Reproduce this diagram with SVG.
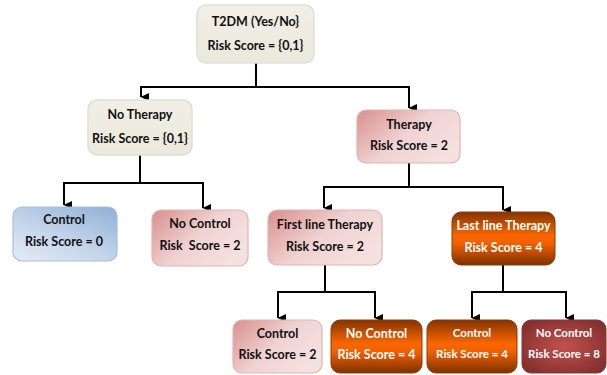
<svg xmlns="http://www.w3.org/2000/svg" width="607" height="375" viewBox="0 0 607 375">
<style>
.t{font-family:Lato,"Liberation Sans",sans-serif;font-weight:bold;font-size:12.5px;text-anchor:middle;fill:#111}
.w{fill:#fff}
.c{fill:none;stroke:#000;stroke-width:2}
</style>
<defs>
<marker id="ah" markerUnits="userSpaceOnUse" markerWidth="8" markerHeight="9" refX="4" refY="8" orient="auto-start-reverse" viewBox="0 0 8 9">
<path d="M0,0 L8,0 L4,8.5 Z" fill="#000" transform="rotate(0)"/>
</marker>
<linearGradient id="beige" x1="0" y1="0" x2="0" y2="1"><stop offset="0" stop-color="#f1efe6"/><stop offset="1" stop-color="#ebe8dc"/></linearGradient>
<linearGradient id="pink" x1="0" y1="0" x2="1" y2="0.6"><stop offset="0" stop-color="#d88f8d"/><stop offset="0.55" stop-color="#efd2d1"/><stop offset="1" stop-color="#f5e1e0"/></linearGradient>
<linearGradient id="blue" x1="1" y1="0" x2="0.2" y2="1"><stop offset="0" stop-color="#8fb0d6"/><stop offset="0.6" stop-color="#c3d4ea"/><stop offset="1" stop-color="#dfe8f3"/></linearGradient>
<linearGradient id="orange" x1="0" y1="0" x2="0" y2="1"><stop offset="0" stop-color="#843400"/><stop offset="0.45" stop-color="#fb6700"/><stop offset="0.6" stop-color="#f06000"/><stop offset="1" stop-color="#7d3100"/></linearGradient>
<radialGradient id="dred" cx="0.5" cy="0.5" r="0.65"><stop offset="0" stop-color="#c4514e"/><stop offset="1" stop-color="#7e2e2c"/></radialGradient>
</defs>
<g id="connectors">
<path class="c" d="M256,63 V87 H141 V97" marker-end="url(#ah)"/>
<path class="c" d="M256,87 H409 V108" marker-end="url(#ah)"/>
<path class="c" d="M140,155 V183 H64 V205" marker-end="url(#ah)"/>
<path class="c" d="M140,183 H203 V208" marker-end="url(#ah)"/>
<path class="c" d="M409,163 V187 H324 V208" marker-end="url(#ah)"/>
<path class="c" d="M409,187 H503 V210" marker-end="url(#ah)"/>
<path class="c" d="M325,265 V292 H278 V318" marker-end="url(#ah)"/>
<path class="c" d="M325,292 H375 V318" marker-end="url(#ah)"/>
<path class="c" d="M503,265 V292 H472 V318" marker-end="url(#ah)"/>
<path class="c" d="M503,292 H566 V318" marker-end="url(#ah)"/>
</g>
<g id="n-t2dm">
<rect x="197" y="5" width="117" height="58" rx="9" fill="url(#beige)" stroke="#e2dfd2" stroke-width="1.5"/>
<text class="t" x="255.5" y="26">T2DM (Yes/No}</text>
<text class="t" x="255.5" y="50">Risk Score = {0,1}</text>
</g>
<g id="n-notherapy">
<rect x="88" y="100" width="104" height="55" rx="9" fill="url(#beige)" stroke="#e2dfd2" stroke-width="1.5"/>
<text class="t" x="140" y="119">No Therapy</text>
<text class="t" x="140" y="143">Risk Score = {0,1}</text>
</g>
<g id="n-therapy">
<rect x="357" y="110" width="103" height="53" rx="9" fill="url(#pink)" stroke="#e3b4b3" stroke-width="1.2"/>
<text class="t" x="409" y="129">Therapy</text>
<text class="t" x="409" y="150">Risk Score = 2</text>
</g>
<g id="n-control">
<rect x="13" y="207" width="104" height="54" rx="9" fill="url(#blue)" stroke="#a9bfdc" stroke-width="1.2"/>
<text class="t" x="64" y="224">Control</text>
<text class="t" x="64" y="246">Risk Score = 0</text>
</g>
<g id="n-nocontrol">
<rect x="152" y="210" width="96" height="56" rx="9" fill="url(#pink)" stroke="#e3b4b3" stroke-width="1.2"/>
<text class="t" x="200" y="228">No Control</text>
<text class="t" x="200" y="250" xml:space="preserve">Risk  Score = 2</text>
</g>
<g id="n-firstline">
<rect x="268" y="210" width="114" height="55" rx="9" fill="url(#pink)" stroke="#e3b4b3" stroke-width="1.2"/>
<text class="t" x="325" y="229">First line Therapy</text>
<text class="t" x="325" y="251">Risk Score = 2</text>
</g>
<g id="n-lastline">
<rect x="452" y="212" width="103" height="53" rx="9" fill="url(#orange)" stroke="#8a3a10" stroke-width="1"/>
<text class="t w" x="503.5" y="230">Last line Therapy</text>
<text class="t w" x="503.5" y="252">Risk Score = 4</text>
</g>
<g id="n-fl-control">
<rect x="233" y="320" width="89" height="53" rx="9" fill="url(#pink)" stroke="#e3b4b3" stroke-width="1.2"/>
<text class="t" x="277.5" y="338">Control</text>
<text class="t" x="277.5" y="359">Risk Score = 2</text>
</g>
<g id="n-fl-nocontrol">
<rect x="331" y="320" width="91" height="53" rx="9" fill="url(#orange)" stroke="#8a3a10" stroke-width="1"/>
<text class="t w" x="376.5" y="338">No Control</text>
<text class="t w" x="376.5" y="359">Risk Score = 4</text>
</g>
<g id="n-ll-control">
<rect x="427" y="320" width="90" height="53" rx="9" fill="url(#orange)" stroke="#8a3a10" stroke-width="1"/>
<text class="t w" x="472" y="337" style="font-size:11.5px">Control</text>
<text class="t w" x="472" y="358" style="font-size:11.5px">Risk Score = 4</text>
</g>
<g id="n-ll-nocontrol">
<rect x="522" y="320" width="84" height="53" rx="9" fill="url(#dred)" stroke="#8b3533" stroke-width="1"/>
<text class="t w" x="564" y="337" style="font-size:11.5px">No Control</text>
<text class="t w" x="564" y="358" style="font-size:11.5px">Risk Score = 8</text>
</g>
</svg>
